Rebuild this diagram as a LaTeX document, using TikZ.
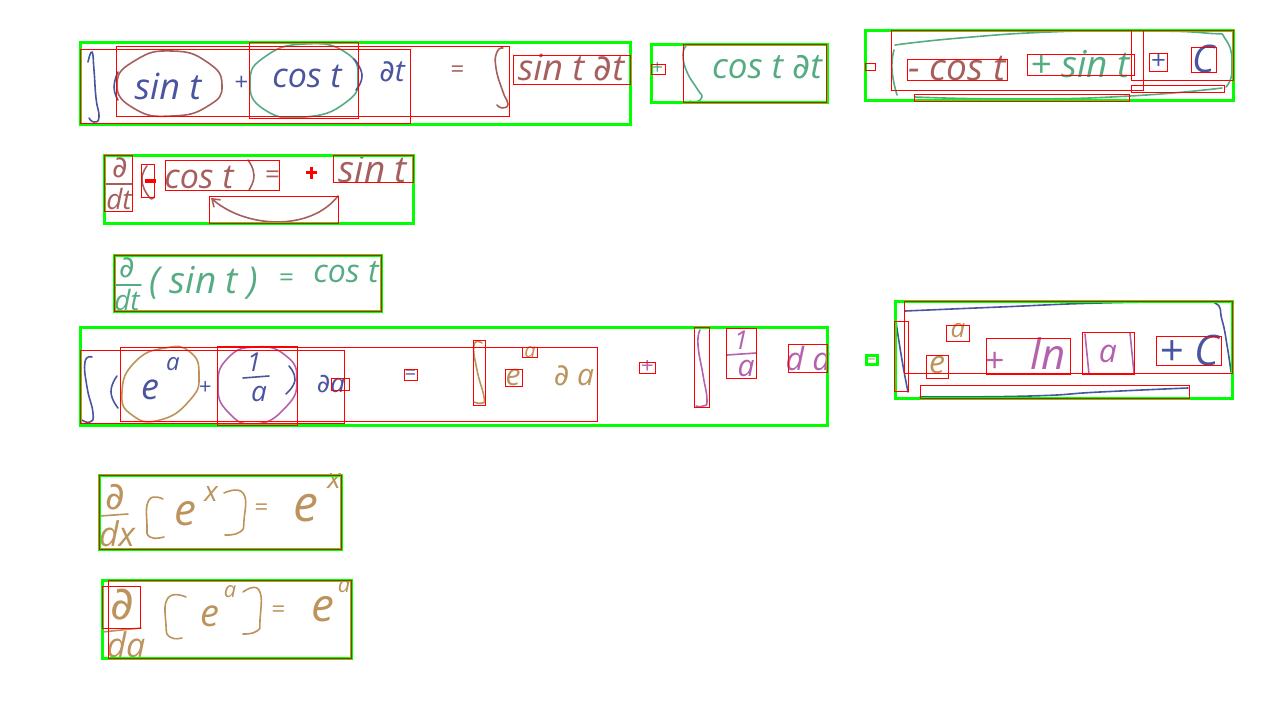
\documentclass[tikz,border=0pt]{standalone}
\usepackage{fontspec}
\setmainfont{Open Sans}
\newfontfamily\inkpartial{DejaVu Sans}
\newcommand{\pd}{{\inkpartial\itshape ∂}}
\usetikzlibrary{positioning,arrows.meta}
\definecolor{inkblue}{HTML}{4A549F}
\definecolor{inkbrown}{HTML}{A65F5C}
\definecolor{inkgreen}{HTML}{55AC82}
\definecolor{inktan}{HTML}{BC935C}
\definecolor{inkpink}{HTML}{B562AC}
\tikzset{
  ink/.style={inner sep=0pt, text=#1},
  sz/.style={font=\fontsize{#1}{#1}\selectfont\itshape},
  stroke/.style={draw=#1, line width=1.6pt, line cap=round, line join=round, tension=0.9},
  greenbox/.style={draw=green, line width=3pt},
  redbox/.style={draw=red, line width=1pt}
}
\begin{document}
\begin{tikzpicture}[x=1pt, y=-1pt]
\useasboundingbox (0,0) rectangle (1280,720);

\draw[stroke=inkblue] plot[smooth] coordinates {(88,62) (92,52) (94,70) (96,98) (99,117) (94,122) (89,118)};
\draw[stroke=inkblue] plot[smooth] coordinates {(118,72) (114,87) (118,100)};
\draw[stroke=inkbrown] plot[smooth cycle] coordinates {(117,84) (136,60) (172,51) (207,62) (222,85) (208,106) (172,116) (135,109)};
\node[ink=inkblue, sz=36] (sint) at (168,86) {sin t};
\node[ink=inkblue, sz=24] (plusa) at (241,83) {+};
\draw[stroke=inkgreen] plot[smooth cycle] coordinates {(250,82) (266,56) (305,44) (345,52) (358,78) (345,103) (305,117) (265,110)};
\node[ink=inkblue, sz=34] (cost) at (307,76) {cos t};
\draw[stroke=inkblue] plot[smooth] coordinates {(354,59) (362,75) (356,90)};
\node[ink=inkblue, sz=30] (dt) at (392,72) {\pd t};
\node[ink=inkbrown, sz=24] (eqa) at (457,72) {=};
\draw[stroke=inkbrown] plot[smooth] coordinates {(503,48) (497,52) (496,68) (503,92) (508,104) (502,108) (497,105)};
\node[ink=inkbrown, sz=36] (sintdt) at (571,68) {sin t \pd t};

\node[ink=inkgreen, sz=20] (plusb) at (657,69) {+};
\draw[stroke=inkgreen] plot[smooth] coordinates {(686,46) (683,55) (687,72) (698,90) (702,97) (696,102) (690,101)};
\node[ink=inkgreen, sz=35] (costdt) at (767,67) {cos t \pd t};

\draw[stroke=inkgreen] plot[smooth] coordinates {(895,45) (960,38) (1050,32) (1130,31) (1205,33) (1226,40) (1232,70) (1226,87)};
\draw[stroke=inkgreen] plot[smooth] coordinates {(894,50) (892,70) (897,95)};
\draw[stroke=inkgreen] plot[smooth] coordinates {(915,97) (1020,99) (1130,96) (1222,88)};
\node[ink=inkbrown, sz=37] (mcost) at (957,69) {- cos t};
\node[ink=inkgreen, sz=37] (psint) at (1080,64) {+ sin t};
\node[ink=inkblue, sz=26] (plusc) at (1158,62) {+};
\node[ink=inkblue, sz=38] (bigc) at (1204,59) {C};

\node[ink=inkbrown, sz=30] (dba) at (120,168) {\pd};
\draw[stroke=inkbrown] (105,184) -- (132,184);
\node[ink=inkbrown, sz=28] (dtb) at (119,199) {dt};
\draw[stroke=inkbrown] plot[smooth] coordinates {(147,166) (142,180) (149,197) (154,197)};
\node[ink=inkbrown, sz=34] (costb) at (199,177) {cos t};
\draw[stroke=inkbrown] plot[smooth] coordinates {(248,160) (254,175) (249,190)};
\node[ink=inkbrown, sz=26] (eqb) at (272,177) {=};
\node[ink=inkbrown, sz=37] (sintb) at (373,169) {sin t};
\coordinate (arcstart) at (338,196);
\coordinate (arcend) at (211,198);
\draw[stroke=inkbrown, -{Straight Barb[length=7pt,width=10pt]}] (arcstart) .. controls (310,232) and (245,228) .. (arcend);

\node[ink=inkgreen, sz=30] (dbc) at (127,268) {\pd};
\draw[stroke=inkgreen] (115,285) -- (141,285);
\node[ink=inkgreen, sz=28] (dtc) at (127,300) {dt};
\node[ink=inkgreen, sz=37] (sinc) at (204,283) {( sin t )};
\node[ink=inkgreen, sz=26] (eqc) at (286,280) {=};
\node[ink=inkgreen, sz=32] (costc) at (346,272) {cos t};

\draw[stroke=inkblue] plot[smooth] coordinates {(92,357) (85,362) (87,387) (93,413) (90,422) (82,420)};
\draw[stroke=inkblue] plot[smooth] coordinates {(117,376) (111,392) (118,408)};
\draw[stroke=inktan] plot[smooth cycle] coordinates {(122,392) (135,362) (165,348) (190,352) (199,375) (190,400) (160,420) (132,415)};
\node[ink=inkblue, sz=36] (ea) at (150,390) {e};
\node[ink=inkblue, sz=24] (ua) at (173,364) {a};
\node[ink=inkblue, sz=22] (plusd) at (205,388) {+};
\draw[stroke=inkpink] plot[smooth cycle] coordinates {(218,385) (228,358) (255,347) (285,355) (297,380) (285,408) (255,424) (228,412)};
\node[ink=inkblue, sz=26] (onea) at (254,362) {1};
\draw[stroke=inkblue] (243,378) -- (269,376);
\node[ink=inkblue, sz=28] (adena) at (259,394) {a};
\draw[stroke=inkblue] plot[smooth] coordinates {(289,366) (295,380) (286,394)};
\node[ink=inkblue, sz=26] (da) at (331,384) {\pd a};
\node[ink=inkblue, sz=20] (eqd) at (410,375) {=};
\draw[stroke=inktan] plot[smooth] coordinates {(482,343) (474,345) (477,370) (484,397) (482,403) (474,402)};
\node[ink=inktan, sz=30] (eb) at (513,377) {e};
\node[ink=inktan, sz=20] (ub) at (530,352) {a};
\node[ink=inktan, sz=30] (dab) at (574,376) {\pd\ a};
\node[ink=inkpink, sz=22] (pluse) at (647,367) {+};
\draw[stroke=inkpink] plot[smooth] coordinates {(700,330) (698,345) (703,375) (707,400) (703,406) (696,406)};
\node[ink=inkpink, sz=26] (oneb) at (741,340) {1};
\draw[stroke=inkpink] (727,355) -- (756,353);
\node[ink=inkpink, sz=30] (adenb) at (746,368) {a};
\node[ink=inkpink, sz=32] (dac) at (808,358) {d a};

\node[ink=inktan, sz=16] (eqe) at (871,360) {=};
\draw[stroke=inkblue] plot[smooth] coordinates {(905,311) (1000,307) (1100,303) (1190,302) (1215,303) (1222,320) (1227,345) (1231,372)};
\draw[stroke=inkblue] plot[smooth] coordinates {(896,322) (902,360) (908,392)};
\draw[stroke=inkblue] plot[smooth] coordinates {(920,397) (1030,396) (1100,392) (1188,388)};
\node[ink=inktan, sz=26] (uc) at (958,331) {a};
\node[ink=inktan, sz=32] (ec) at (937,365) {e};
\node[ink=inkpink, sz=34] (plusx) at (994,362) {+};
\node[ink=inkpink, sz=42] (lnx) at (1048,354) {ln};
\draw[stroke=inkpink] (1085,334) -- (1089,374);
\draw[stroke=inkpink] (1130,333) -- (1134,373);
\node[ink=inkpink, sz=32] (abs) at (1108,354) {a};
\node[ink=inkblue, sz=42] (plusbigc) at (1189,350) {+ C};

\node[ink=inktan, sz=38] (dbd) at (115,497) {\pd};
\draw[stroke=inktan] (100,516) -- (128,514);
\node[ink=inktan, sz=34] (dxa) at (117,534) {dx};
\draw[stroke=inktan] plot[smooth] coordinates {(163,499) (149,500) (147,525) (150,537) (164,537)};
\node[ink=inktan, sz=44] (eba) at (185,514) {e};
\node[ink=inktan, sz=28] (xa) at (211,494) {x};
\draw[stroke=inktan] plot[smooth] coordinates {(224,493) (243,493) (244,520) (240,532) (225,535)};
\node[ink=inktan, sz=24] (eqf) at (261,510) {=};
\node[ink=inktan, sz=50] (ebb) at (306,508) {e};
\node[ink=inktan, sz=28] (xb) at (334,481) {x};

\node[ink=inktan, sz=46] (dbe) at (122,605) {\pd};
\draw[stroke=inktan] (102,632) -- (141,628);
\node[ink=inktan, sz=34] (dae) at (126,645) {da};
\draw[stroke=inktan] plot[smooth] coordinates {(186,597) (168,598) (166,625) (170,637) (182,638)};
\node[ink=inktan, sz=38] (ebc) at (210,616) {e};
\node[ink=inktan, sz=22] (ud) at (230,592) {a};
\draw[stroke=inktan] plot[smooth] coordinates {(243,592) (259,590) (260,620) (257,631) (243,634)};
\node[ink=inktan, sz=24] (eqg) at (278,612) {=};
\node[ink=inktan, sz=46] (ebd) at (323,609) {e};
\node[ink=inktan, sz=22] (ue) at (344,587) {a};

\draw[greenbox] (80,42) rectangle (630,124);
\draw[greenbox] (651,44) rectangle (827,102);
\draw[greenbox] (865,30) rectangle (1233,100);
\draw[greenbox] (104,155) rectangle (413,223);
\draw[greenbox] (114,255) rectangle (381,311);
\draw[greenbox] (80,327) rectangle (827,425);
\draw[greenbox] (895,301) rectangle (1232,398);
\draw[greenbox] (866,355) rectangle (877,364);
\draw[greenbox] (99,475) rectangle (341,549);
\draw[greenbox] (102,580) rectangle (351,658);

\draw[redbox] (80,49) rectangle (410,123);
\draw[redbox] (116,46) rectangle (509,116);
\draw[redbox] (249,42) rectangle (358,118);
\draw[redbox] (513,55) rectangle (630,84);
\draw[redbox] (651,64) rectangle (665,74);
\draw[redbox] (683,44) rectangle (826,102);
\draw[redbox] (865,63) rectangle (875,70);
\draw[redbox] (891,30) rectangle (1143,90);
\draw[redbox] (907,59) rectangle (1007,80);
\draw[redbox] (1027,54) rectangle (1134,75);
\draw[redbox] (1131,30) rectangle (1233,80);
\draw[redbox] (1149,53) rectangle (1167,71);
\draw[redbox] (1191,47) rectangle (1216,72);
\draw[redbox] (1131,85) rectangle (1224,92);
\draw[redbox] (914,94) rectangle (1129,101);

\draw[redbox] (104,155) rectangle (132,211);
\draw[redbox] (141,164) rectangle (154,197);
\draw[redbox] (165,160) rectangle (279,190);
\draw[redbox] (333,155) rectangle (413,182);
\draw[redbox] (209,196) rectangle (338,223);
\draw[redbox, fill=red] (145,179) rectangle (155,182);
\draw[redbox, fill=red] (306,171) rectangle (316,173);
\draw[redbox, fill=red] (310,167) rectangle (312,178);
\draw[redbox] (114,255) rectangle (381,311);

\draw[redbox] (80,350) rectangle (344,423);
\draw[redbox] (120,347) rectangle (597,421);
\draw[redbox] (217,346) rectangle (297,425);
\draw[redbox] (331,378) rectangle (349,390);
\draw[redbox] (404,369) rectangle (417,380);
\draw[redbox] (473,340) rectangle (485,405);
\draw[redbox] (522,347) rectangle (537,357);
\draw[redbox] (505,369) rectangle (522,386);
\draw[redbox] (639,362) rectangle (655,373);
\draw[redbox] (694,327) rectangle (709,407);
\draw[redbox] (726,328) rectangle (756,378);
\draw[redbox] (788,344) rectangle (827,372);

\draw[redbox] (904,301) rectangle (1232,373);
\draw[redbox] (894,321) rectangle (908,391);
\draw[redbox] (946,325) rectangle (969,341);
\draw[redbox] (926,355) rectangle (948,378);
\draw[redbox] (986,338) rectangle (1070,374);
\draw[redbox] (1082,332) rectangle (1134,374);
\draw[redbox] (1156,336) rectangle (1221,365);
\draw[redbox] (920,385) rectangle (1189,398);

\draw[redbox] (99,475) rectangle (341,549);
\draw[redbox] (108,580) rectangle (351,658);
\draw[redbox] (102,586) rectangle (140,628);
\end{tikzpicture}
\end{document}
